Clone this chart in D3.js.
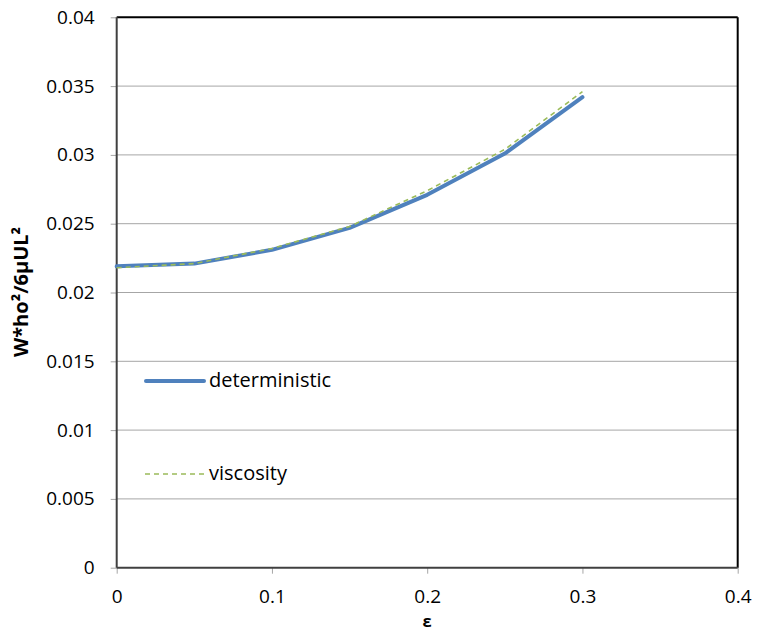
<!DOCTYPE html>
<html><head><meta charset="utf-8">
<script src="https://cdn.jsdelivr.net/npm/d3@7"></script>
<style>body{margin:0;background:#fff}</style>
</head><body><svg id="c" width="758" height="632"></svg>
<script>
const xVals = [0, 0.05, 0.1, 0.15, 0.2, 0.25, 0.3];
const deterministic = [0.0219, 0.0221, 0.0231, 0.0247, 0.0271, 0.0301, 0.0342];
const viscosity = [0.0218, 0.0221, 0.0232, 0.0248, 0.0274, 0.0304, 0.0346];
const xTicks = [0, 0.1, 0.2, 0.3, 0.4];
const yTicks = [0, 0.005, 0.01, 0.015, 0.02, 0.025, 0.03, 0.035, 0.04];
const seriesNames = ["deterministic", "viscosity"];

const svg = d3.select("#c");
const L = 116.7, R = 737.7, T = 17.3, B = 567.7;
const x = d3.scaleLinear().domain([0, 0.4]).range([L, R]);
const y = d3.scaleLinear().domain([0, 0.04]).range([B, T]);
const font = "Open Sans, Liberation Sans, sans-serif";

// grid
svg.append("g").selectAll("line").data(yTicks.slice(1, -1)).join("line")
  .attr("x1", L).attr("x2", R).attr("y1", d => y(d)).attr("y2", d => y(d))
  .attr("stroke", "#a6a6a6").attr("stroke-width", 1);

// axes
const yAxis = d3.axisLeft(y).tickValues(yTicks).tickSize(6).tickPadding(16)
  .tickFormat(d => d === 0 ? "0" : String(+d.toFixed(3)));
const gy = svg.append("g").attr("transform", `translate(${L},0)`).call(yAxis);
gy.select(".domain").remove();
gy.selectAll(".tick line").attr("stroke", "#a6a6a6");
gy.selectAll("text").attr("font-family", font).attr("font-size", 19).attr("fill", "#000");

const xAxis = d3.axisBottom(x).tickValues(xTicks).tickSize(6).tickPadding(15.5)
  .tickFormat(d => d === 0 ? "0" : String(d));
const gx = svg.append("g").attr("transform", `translate(0,${B})`).call(xAxis);
gx.select(".domain").remove();
gx.selectAll(".tick line").attr("stroke", "#a6a6a6");
gx.selectAll("text").attr("font-family", font).attr("font-size", 19).attr("fill", "#000");

// frame
svg.append("line").attr("x1", L).attr("x2", R).attr("y1", T).attr("y2", T).attr("stroke", "#000").attr("stroke-width", 2);
svg.append("line").attr("x1", R).attr("x2", R).attr("y1", T).attr("y2", B).attr("stroke", "#000").attr("stroke-width", 2);
svg.append("line").attr("x1", L).attr("x2", R).attr("y1", B).attr("y2", B).attr("stroke", "#404040").attr("stroke-width", 2);
svg.append("line").attr("x1", L).attr("x2", L).attr("y1", T).attr("y2", B).attr("stroke", "#404040").attr("stroke-width", 2);

// lines
const line = d3.line().x((d, i) => x(xVals[i])).y(d => y(d));
svg.append("path").datum(deterministic).attr("d", line).attr("fill", "none")
  .attr("stroke", "#4f81bd").attr("stroke-width", 4).attr("stroke-linejoin", "round").attr("stroke-linecap", "round");
svg.append("path").datum(viscosity).attr("d", line).attr("fill", "none")
  .attr("stroke", "#9bbb59").attr("stroke-width", 1.6).attr("stroke-dasharray", "5,4");

// legend
const lg = svg.append("g");
lg.append("line").attr("x1", 146).attr("x2", 204).attr("y1", 381).attr("y2", 381)
  .attr("stroke", "#4f81bd").attr("stroke-width", 4).attr("stroke-linecap", "round");
lg.append("text").attr("x", 209).attr("y", 387).text(seriesNames[0])
  .attr("font-family", font).attr("font-size", 20).attr("fill", "#000");
lg.append("line").attr("x1", 145).attr("x2", 204).attr("y1", 474).attr("y2", 474)
  .attr("stroke", "#9bbb59").attr("stroke-width", 1.6).attr("stroke-dasharray", "5,4");
lg.append("text").attr("x", 209).attr("y", 480).text(seriesNames[1])
  .attr("font-family", font).attr("font-size", 20).attr("fill", "#000");

// axis titles
svg.append("text").attr("transform", "translate(28,292) rotate(-90)").attr("text-anchor", "middle")
  .attr("font-family", font).attr("font-weight", "bold").attr("font-size", 20).text("W*ho²/6μUL²");
svg.append("text").attr("x", 427).attr("y", 626.5).attr("text-anchor", "middle")
  .attr("font-family", font).attr("font-weight", "bold").attr("font-size", 16.5).text("ε");
</script></body></html>
